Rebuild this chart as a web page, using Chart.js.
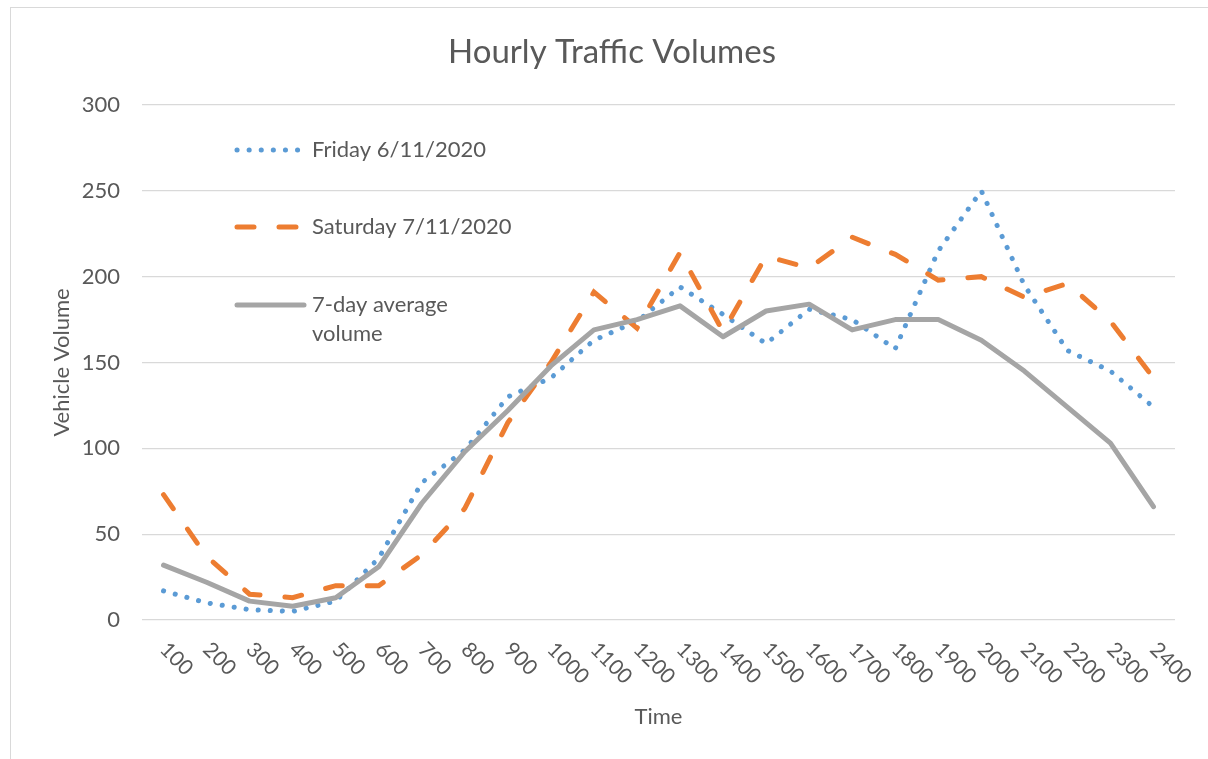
<!DOCTYPE html>
<html>
<head>
<meta charset="utf-8">
<title>Hourly Traffic Volumes</title>
<script src="https://cdn.jsdelivr.net/npm/chart.js@4/dist/chart.umd.min.js"></script>
<style>
    body { margin: 0; background: #ffffff; }
    #frame {
        position: absolute; left: 10px; top: 7px; width: 1250px; height: 751px;
        border-top: 1px solid #d9d9d9; border-left: 1px solid #d9d9d9;
    }
    #chart-container { position: absolute; left: 0; top: 0; width: 1208px; height: 759px; }
</style>
</head>
<body>
<div id="frame"></div>
<div id="chart-container"><canvas id="traffic" width="1208" height="759"></canvas></div>
<script>
// hours of the day (x axis)
const timeLabels = ['100', '200', '300', '400', '500', '600', '700', '800', '900', '1000', '1100', '1200',
    '1300', '1400', '1500', '1600', '1700', '1800', '1900', '2000', '2100', '2200', '2300', '2400'];

// vehicle counts
const friday = [17, 10, 6, 5, 11, 36, 80, 99, 130, 141, 163, 174, 194, 178, 161, 181, 175, 158, 215, 250, 195, 157, 145, 124];
const saturday = [73, 37, 15, 13, 20, 20, 38, 65, 115, 150, 191, 170, 214, 168, 212, 205, 223, 213, 198, 200, 188, 196, 174, 141];
const weekAverage = [32, 22, 11, 8, 13, 31, 68, 98, 122, 148, 169, 175, 183, 165, 180, 184, 169, 175, 175, 163, 145, 124, 103, 66];

const seriesNames = ['Friday 6/11/2020', 'Saturday 7/11/2020', '7-day average volume'];
const legendLines = [['Friday 6/11/2020'], ['Saturday 7/11/2020'], ['7-day average', 'volume']];
const yTicks = [0, 50, 100, 150, 200, 250, 300];

const textColor = '#595959';
const gridColor = '#d9d9d9';
Chart.defaults.font.family = 'Lato';

// legend sits inside the plot area, top left, like the Excel one
const insideLegend = {
    id: 'insideLegend',
    afterDraw(chart) {
        const ctx = chart.ctx;
        const area = chart.chartArea;
        const rowY = [area.top + 45, area.top + 122, area.top + 200];
        ctx.save();
        chart.data.datasets.forEach(function(ds, i) {
            const y = rowY[i];
            ctx.beginPath();
            ctx.strokeStyle = ds.borderColor;
            ctx.lineWidth = ds.borderWidth;
            ctx.lineCap = 'round';
            ctx.setLineDash(ds.borderDash || []);
            ctx.moveTo(area.left + 95, y);
            ctx.lineTo(area.left + (i === 2 ? 162 : 157), y);
            ctx.stroke();
            ctx.setLineDash([]);
            ctx.fillStyle = textColor;
            ctx.font = '22px Lato';
            ctx.textAlign = 'left';
            ctx.textBaseline = 'middle';
            legendLines[i].forEach(function(line, j) {
                ctx.fillText(line, area.left + 170, y + j * 29);
            });
        });
        ctx.restore();
    }
};

// Excel tilts the hour labels clockwise, Chart.js only tilts the other way
const slantedTicks = {
    id: 'slantedTicks',
    afterDraw(chart) {
        const ctx = chart.ctx;
        const scale = chart.scales.x;
        ctx.save();
        ctx.fillStyle = textColor;
        ctx.font = '21px Lato';
        ctx.textAlign = 'left';
        ctx.textBaseline = 'middle';
        scale.ticks.forEach(function(t, i) {
            ctx.save();
            ctx.translate(scale.getPixelForTick(i), scale.top + 26);
            ctx.rotate(Math.PI / 4);
            ctx.fillText(scale.getLabelForValue(t.value), 0, 0);
            ctx.restore();
        });
        ctx.restore();
    }
};

const chartData = {
    labels: timeLabels,
    datasets: [{
        label: seriesNames[0],
        data: friday,
        borderColor: '#5b9bd5',
        backgroundColor: '#5b9bd5',
        borderWidth: 5,
        borderDash: [0.1, 12],
        borderCapStyle: 'round',
        order: 2
    }, {
        label: seriesNames[1],
        data: saturday,
        borderColor: '#ed7d31',
        backgroundColor: '#ed7d31',
        borderWidth: 5,
        borderDash: [17, 25],
        borderCapStyle: 'round',
        order: 1
    }, {
        label: seriesNames[2],
        data: weekAverage,
        borderColor: '#a5a5a5',
        backgroundColor: '#a5a5a5',
        borderWidth: 5,
        borderCapStyle: 'round',
        borderJoinStyle: 'round',
        order: 0
    }]
};

const chartConfig = {
    type: 'line',
    data: chartData,
    options: {
        responsive: false,
        animation: false,
        devicePixelRatio: 1,
        layout: { padding: { left: 16, right: 0, top: 0, bottom: 0 } },
        elements: {
            point: { radius: 0, hoverRadius: 0 },
            line: { tension: 0 }
        },
        plugins: {
            legend: { display: false },
            tooltip: { enabled: false },
            title: {
                display: true,
                text: 'Hourly Traffic Volumes',
                color: textColor,
                font: { size: 33, weight: 'normal' },
                padding: { top: 33, bottom: 32.4 }
            }
        },
        scales: {
            x: {
                offset: true,
                grid: { display: false, drawTicks: false },
                border: { display: false },
                ticks: { display: false },
                title: {
                    display: true,
                    text: 'Time',
                    color: textColor,
                    font: { size: 22 },
                    padding: { top: 0, bottom: 28.8 }
                },
                afterFit: function(scale) { scale.height = 139; }
            },
            y: {
                min: 0,
                max: 300,
                afterBuildTicks: function(scale) {
                    scale.ticks = yTicks.map(function(v) { return { value: v }; });
                },
                grid: { color: gridColor, lineWidth: 1.3, drawTicks: false },
                border: { display: false },
                ticks: { color: textColor, font: { size: 22 }, padding: 22 },
                title: {
                    display: true,
                    text: 'Vehicle Volume',
                    color: textColor,
                    font: { size: 22 },
                    padding: { top: 32.8, bottom: 0 }
                },
                afterFit: function(scale) { scale.width = 126; }
            },
            // empty right-hand axis, only keeps the plot area off the right edge
            spacer: {
                position: 'right',
                display: true,
                grid: { display: false, drawTicks: false },
                border: { display: false },
                ticks: { display: false },
                afterFit: function(scale) { scale.width = 33; }
            }
        }
    },
    plugins: [insideLegend, slantedTicks]
};

new Chart(document.getElementById('traffic'), chartConfig);
</script>
</body>
</html>
